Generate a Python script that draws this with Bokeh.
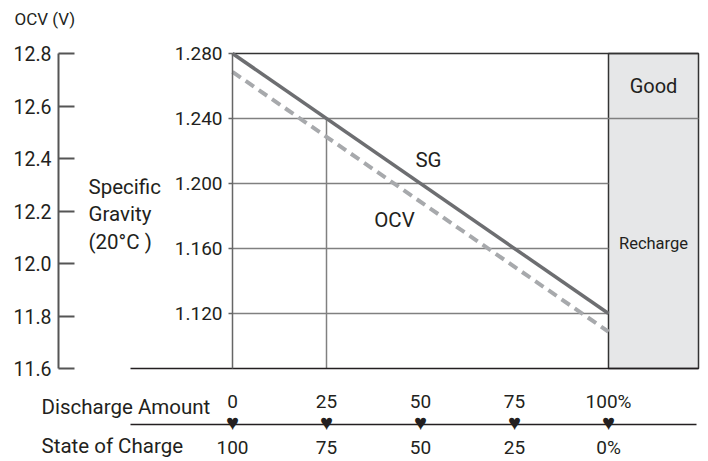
from bokeh.plotting import figure
from bokeh.models import Range1d, LinearAxis, FixedTicker, NumeralTickFormatter
from bokeh.core.properties import value
from bokeh.embed import file_html
from bokeh.resources import INLINE

# ---------------- data ----------------
discharge = [0, 25, 50, 75, 100]
discharge_labels = ["0", "25", "50", "75", "100%"]
soc_labels = ["100", "75", "50", "25", "0%"]
ocv_ticks = [11.6, 11.8, 12.0, 12.2, 12.4, 12.6, 12.8]
sg_ticks = [1.120, 1.160, 1.200, 1.240, 1.280]
line_x = [0, 100]
sg_values = [1.280, 1.120]
ocv_values = [12.73, 11.74]
zone_names = ["Good", "Recharge"]
zone_top = [1.280, 1.240]

# ---------------- layout constants (pixels inside figure) ----------------
W, H = 708, 461
X0 = 232          # px of 0 % discharge
PX_PCT = 3.76     # px per % discharge
TOP = 53          # px of SG 1.280 / OCV 12.8
SG_PX = 1625.0    # px per SG unit
OCV_PX = 262.5    # px per volt
SG_TOP = 1.280
OCV_TOP = 12.8
FONT_NAME = "Roboto"
FONT = value(FONT_NAME)
TXT = "#231f20"


def xp(px):
    return (px - X0) / PX_PCT


def yp(py):
    return SG_TOP - (py - TOP) / SG_PX


sg_bottom = SG_TOP - (OCV_TOP - min(ocv_ticks)) * OCV_PX / SG_PX
box_right = xp(698)

p = figure(width=W, height=H, output_backend="svg", toolbar_location=None,
           x_axis_type=None, y_axis_type=None,
           x_range=Range1d(xp(0), xp(W)), y_range=Range1d(yp(H), yp(0)),
           min_border=0, outline_line_color=None)
p.extra_y_ranges = {"ocv": Range1d(OCV_TOP - (H - TOP) / OCV_PX, OCV_TOP + TOP / OCV_PX)}

# gray zone box
p.quad(left=[100], right=[box_right], top=[SG_TOP], bottom=[sg_bottom],
       fill_color="#e6e7e8", line_color="#333333", line_width=1.5)

# horizontal grid lines
grid_y = [v for v in sg_ticks if v < SG_TOP]
grid_x1 = [box_right if v == 1.240 else 100 for v in grid_y]
p.segment(x0=[0] * len(grid_y), x1=grid_x1, y0=grid_y, y1=grid_y,
          line_color="#808080", line_width=1.5)
# top line
p.segment(x0=[0], x1=[box_right], y0=[SG_TOP], y1=[SG_TOP],
          line_color="#333333", line_width=1.5)
# vertical at 25 %
p.segment(x0=[discharge[1]], x1=[discharge[1]], y0=[sg_bottom], y1=[1.240],
          line_color="#808080", line_width=1.5)
# bottom base line
p.segment(x0=[xp(130)], x1=[box_right], y0=[sg_bottom], y1=[sg_bottom],
          line_color="#231f20", line_width=1.5)

# data lines
p.line(line_x, ocv_values, y_range_name="ocv", line_color="#a7a9ac",
       line_width=4, line_dash="10 6")
p.line(line_x, sg_values, line_color="#6d6e71", line_width=3.5)

# axes
ocv_axis = LinearAxis(y_range_name="ocv", fixed_location=xp(58),
                      ticker=FixedTicker(ticks=ocv_ticks), bounds=(min(ocv_ticks), max(ocv_ticks)),
                      formatter=NumeralTickFormatter(format="0.0"),
                      major_tick_in=16, major_tick_out=0, minor_tick_line_color=None,
                      axis_line_color="#555555", axis_line_width=2,
                      major_tick_line_color="#555555", major_tick_line_width=2,
                      major_label_standoff=7, major_label_text_font=FONT_NAME,
                      major_label_text_font_size="19.5px", major_label_text_color=TXT)
p.add_layout(ocv_axis, "left")

sg_axis = LinearAxis(fixed_location=0, ticker=FixedTicker(ticks=sg_ticks),
                     bounds=(sg_bottom, SG_TOP),
                     formatter=NumeralTickFormatter(format="0.000"),
                     major_tick_in=0, major_tick_out=4, minor_tick_line_color=None,
                     axis_line_color="#666666", axis_line_width=1.5,
                     major_tick_line_color="#666666", major_tick_line_width=1.5,
                     major_label_standoff=6, major_label_text_font=FONT_NAME,
                     major_label_text_font_size="19px", major_label_text_color=TXT)
p.add_layout(sg_axis, "left")


# text annotations
def txt(x, y, t, size="20.5px", align="left", color=TXT):
    p.text(x=x, y=y, text=t, text_font=FONT, text_font_size=size,
           text_align=align, text_baseline="middle", text_color=color)


txt([xp(14)], [yp(18)], ["OCV (V)"], size="17px")
txt([xp(88)] * 3, [yp(186), yp(213), yp(241)], ["Specific", "Gravity", "(20°C )"])
txt([xp(428)], [yp(159)], ["SG"], align="center")
txt([xp(394)], [yp(219)], ["OCV"], align="center")
zone_x = (100 + box_right) / 2
txt([zone_x], [(zone_top[0] + zone_top[1]) / 2], [zone_names[0]], size="20px", align="center")
txt([zone_x], [(zone_top[1] + sg_bottom) / 2], [zone_names[1]], size="16.5px", align="center")

# bottom scales
txt([xp(41)], [yp(406)], ["Discharge Amount"])
txt(discharge, [yp(401)] * 5, discharge_labels, size="19px", align="center")
p.segment(x0=[xp(130)], x1=[xp(696)], y0=[yp(424)], y1=[yp(424)],
          line_color="#231f20", line_width=1.5)
txt(discharge, [yp(422)] * 5, ["\u2665"] * 5, size="22px", align="center", color="#231f20")
txt([xp(41)], [yp(445)], ["State of Charge"])
txt(discharge, [yp(447)] * 5, soc_labels, size="19px", align="center")

open("out.html", "w").write(file_html(p, INLINE))
